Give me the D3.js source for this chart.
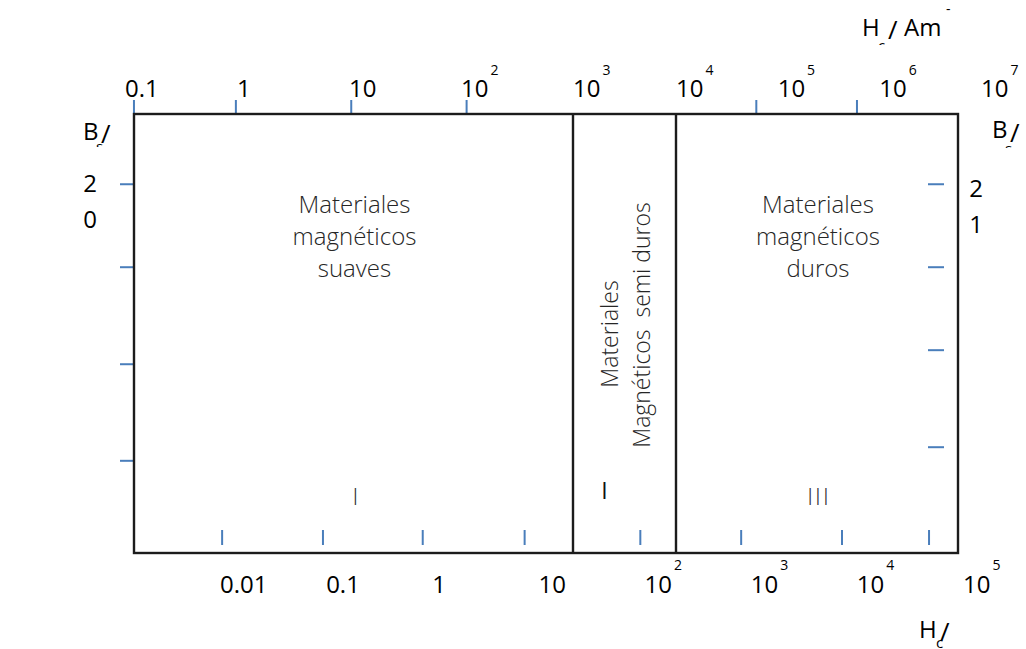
<!DOCTYPE html>
<html>
<head>
<meta charset="utf-8">
<script src="https://cdn.jsdelivr.net/npm/d3@7"></script>
<style>
  body { margin: 0; background: #fff; }
  svg text { font-family: "Open Sans", "Noto Sans", sans-serif; }
</style>
</head>
<body>
<svg id="chart"></svg>
<script>
// axis exponents (Hc in A/m, powers of ten)
var topExp = [-1, 0, 1, 2, 3, 4, 5, 6, 7];
var bottomExp = [-2, -1, 0, 1, 2, 3, 4, 5];
// tick marks, in decades
var topTickExp = [-0.92, -0.01, 1.02, 2.05, 4.79, 5.78];
var bottomTickExp = [-1.98, -1.03, -0.09, 0.87, 1.96, 2.91, 3.86, 4.68];
// vertical ticks (fraction of frame height) and their labels
var leftTicks = [0.84, 0.651, 0.43, 0.21];
var rightTicks = [0.84, 0.651, 0.462, 0.241];
var leftTickLabel = ["2", "0"];
var rightTickLabel = ["2", "1"];
// regions bounded in top-axis decades
var regionBounds = [3, 4];
var regionText = [
  ["Materiales", "magnéticos", "suaves"],
  ["Materiales", "Magnéticos  semi duros"],
  ["Materiales", "magnéticos", "duros"]
];
var regionNumeral = ["I", "I", "III"];

var width = 1026, height = 649;
var frame = {left: 134, top: 114, right: 958, bottom: 553};
var blue = "#4a7ebb";

var svg = d3.select("#chart").attr("width", width).attr("height", height);

var xTop = d3.scaleLinear().domain([-1, 3, 4, 7]).range([125, 573, 676, 981]);
var xBot = d3.scaleLinear().domain([-2, 5]).range([220, 963]);
var y = d3.scaleLinear().domain([0, 1]).range([frame.bottom, frame.top]);

function decadeLabel(sel, e, supDy) {
  if (e < 2) {
    sel.text(d3.format("~g")(Math.pow(10, e)));
  } else {
    sel.append("tspan").text("10");
    sel.append("tspan").attr("dx", 2).attr("dy", supDy)
      .style("font-size", "14px").text(e);
  }
}

// ticks
svg.append("g").selectAll("line").data(topTickExp).join("line")
    .attr("x1", function(d) { return xTop(d); })
    .attr("x2", function(d) { return xTop(d); })
    .attr("y1", frame.top - 14).attr("y2", frame.top)
    .attr("stroke", blue).attr("stroke-width", 2);

svg.append("g").selectAll("line").data(bottomTickExp).join("line")
    .attr("x1", function(d) { return xBot(d); })
    .attr("x2", function(d) { return xBot(d); })
    .attr("y1", frame.bottom - 23).attr("y2", frame.bottom - 8)
    .attr("stroke", blue).attr("stroke-width", 2);

svg.append("g").selectAll("line").data(leftTicks).join("line")
    .attr("x1", frame.left - 14).attr("x2", frame.left)
    .attr("y1", function(d) { return y(d); })
    .attr("y2", function(d) { return y(d); })
    .attr("stroke", blue).attr("stroke-width", 2);

svg.append("g").selectAll("line").data(rightTicks).join("line")
    .attr("x1", frame.right - 30).attr("x2", frame.right - 14)
    .attr("y1", function(d) { return y(d); })
    .attr("y2", function(d) { return y(d); })
    .attr("stroke", blue).attr("stroke-width", 2);

// frame and region dividers
svg.append("rect")
    .attr("x", frame.left).attr("y", frame.top)
    .attr("width", frame.right - frame.left).attr("height", frame.bottom - frame.top)
    .attr("fill", "none").attr("stroke", "#1c1c1c").attr("stroke-width", 2.4);

svg.append("g").selectAll("line").data(regionBounds).join("line")
    .attr("x1", function(d) { return xTop(d); })
    .attr("x2", function(d) { return xTop(d); })
    .attr("y1", frame.top).attr("y2", frame.bottom)
    .attr("stroke", "#1c1c1c").attr("stroke-width", 2.4);

// axis labels
svg.append("g").selectAll("text").data(topExp).join("text")
    .attr("x", function(d) { return xTop(d); })
    .attr("y", 97)
    .style("font-size", "24px").attr("fill", "#000")
    .each(function(d) { decadeLabel(d3.select(this), d, -22); });

svg.append("g").selectAll("text").data(bottomExp).join("text")
    .attr("x", function(d) { return xBot(d); })
    .attr("y", 593)
    .style("font-size", "24px").attr("fill", "#000")
    .each(function(d) { decadeLabel(d3.select(this), d, -23); });

svg.append("g").selectAll("text").data(leftTickLabel).join("text")
    .attr("x", 90).attr("y", function(d, i) { return y(leftTicks[0]) + 8 + i * 36; })
    .attr("text-anchor", "middle")
    .style("font-size", "24px").attr("fill", "#000")
    .text(function(d) { return d; });

svg.append("g").selectAll("text").data(rightTickLabel).join("text")
    .attr("x", 976).attr("y", function(d, i) { return y(rightTicks[0]) + 13 + i * 36; })
    .attr("text-anchor", "middle")
    .style("font-size", "24px").attr("fill", "#000")
    .text(function(d) { return d; });

// axis titles with the clipped subscripts of the original
var defs = svg.append("defs");
var clipN = 0;
function title(main, mx, my, sub, sx, sy, clipY, slash, lx, ly, extra) {
  var g = svg.append("g").style("font-size", "24px").attr("fill", "#000");
  g.append("text").attr("x", mx).attr("y", my).text(main);
  var id = "clip" + (clipN++);
  defs.append("clipPath").attr("id", id)
    .append("rect").attr("x", sx - 5).attr("y", sy - 30).attr("width", 20).attr("height", clipY - (sy - 30));
  g.append("text").attr("x", sx).attr("y", sy).attr("clip-path", "url(#" + id + ")")
    .style("font-size", "15px").text(sub);
  g.append("text").attr("x", lx).attr("y", ly).style("font-size", "26px").text(slash);
  if (extra) extra(g);
}

title("H", 862, 36, "c", 878, 51, 45, "/", 888, 39, function(g) {
  g.append("text").attr("x", 904).attr("y", 36).text("Am");
  g.append("text").attr("x", 946).attr("y", 14).style("font-size", "14px").text("-");
});
title("B", 83, 140, "s", 96, 152, 147, "/", 101, 143);
title("B", 992, 138, "s", 1005, 154, 148, "/", 1010, 142);
title("H", 919, 638, "c", 936, 648, 648, "/", 940, 641);

// region texts
var edges = [frame.left, xTop(regionBounds[0]), xTop(regionBounds[1]), frame.right];
var centers = d3.range(3).map(function(i) { return (edges[i] + edges[i + 1]) / 2; });

[0, 2].forEach(function(i) {
  svg.append("g").selectAll("text").data(regionText[i]).join("text")
      .attr("x", centers[i] + 1)
      .attr("y", function(d, j) { return 213 + j * 32; })
      .attr("text-anchor", "middle")
      .style("font-size", "24px").style("font-weight", 300).attr("fill", "#262626")
      .text(function(d) { return d; });
});

svg.append("g").selectAll("text").data(regionText[1]).join("text")
    .attr("transform", function(d, j) {
      return "translate(" + (centers[1] - 7 + j * 32) + "," + (334 - j * 9) + ") rotate(-90)";
    })
    .attr("text-anchor", "middle")
    .style("font-size", "23px").style("font-weight", 300).attr("fill", "#262626")
    .style("white-space", "pre")
    .text(function(d) { return d; });

svg.append("g").selectAll("text").data(regionNumeral).join("text")
    .attr("x", function(d, i) { return i === 1 ? centers[i] - 20 : centers[i] + 2; })
    .attr("y", function(d, i) { return i === 1 ? 499 : 505; })
    .attr("text-anchor", "middle")
    .style("font-size", "23px")
    .style("font-weight", function(d, i) { return i === 1 ? 400 : 300; })
    .style("letter-spacing", function(d, i) { return i === 2 ? "2px" : "0px"; })
    .attr("fill", function(d, i) { return i === 1 ? "#111" : "#333"; })
    .text(function(d) { return d; });
</script>
</body>
</html>
